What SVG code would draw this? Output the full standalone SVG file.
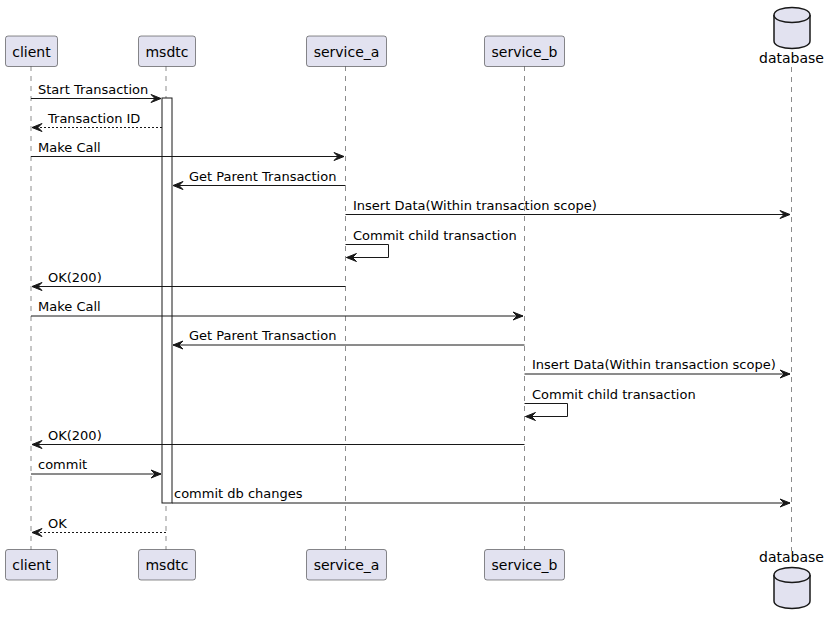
<svg xmlns="http://www.w3.org/2000/svg" width="827" height="627" viewBox="0 0 827 627">
<style>
.life{stroke:#181818;stroke-width:0.5;stroke-dasharray:5,5;fill:none}
.box{fill:#E2E2F0;stroke:#181818;stroke-width:0.5}
.db{fill:#E2E2F0;stroke:#181818;stroke-width:1.5}
.pt{font-family:"DejaVu Sans",sans-serif;font-size:14px;fill:#000000;text-anchor:middle}
.mt{font-family:"DejaVu Sans",sans-serif;font-size:13px;fill:#000000}
.msg{stroke:#181818;stroke-width:1;fill:none}
.dash{stroke-dasharray:2,2}
.head{fill:#181818;stroke:#181818;stroke-width:1}
.act{fill:#FFFFFF;stroke:#181818;stroke-width:1}
</style>
<rect width="827" height="627" fill="#FFFFFF"/>
<g id="lifelines">
<line class="life" x1="31" y1="66" x2="31" y2="550"/>
<line class="life" x1="166" y1="66" x2="166" y2="550"/>
<line class="life" x1="345.5" y1="66" x2="345.5" y2="550"/>
<line class="life" x1="524.5" y1="66" x2="524.5" y2="550"/>
<line class="life" x1="791.5" y1="67" x2="791.5" y2="551"/>
</g>
<g id="client">
<rect class="box" x="5.5" y="36" width="52" height="30.5" rx="2.5"/>
<text class="pt" x="31.5" y="56.5">client</text>
<rect class="box" x="5.5" y="549.5" width="52" height="30.5" rx="2.5"/>
<text class="pt" x="31.5" y="570">client</text>
</g>
<g id="msdtc">
<rect class="box" x="138.5" y="36" width="57" height="30.5" rx="2.5"/>
<text class="pt" x="167" y="56.5">msdtc</text>
<rect class="box" x="138.5" y="549.5" width="57" height="30.5" rx="2.5"/>
<text class="pt" x="167" y="570">msdtc</text>
</g>
<g id="service_a">
<rect class="box" x="306.5" y="36" width="80" height="30.5" rx="2.5"/>
<text class="pt" x="346.5" y="56.5">service_a</text>
<rect class="box" x="306.5" y="549.5" width="80" height="30.5" rx="2.5"/>
<text class="pt" x="346.5" y="570">service_a</text>
</g>
<g id="service_b">
<rect class="box" x="484.5" y="36" width="80" height="30.5" rx="2.5"/>
<text class="pt" x="524.5" y="56.5">service_b</text>
<rect class="box" x="484.5" y="549.5" width="80" height="30.5" rx="2.5"/>
<text class="pt" x="524.5" y="570">service_b</text>
</g>
<g id="database">
<path class="db" d="M774,15 C774,5 810,5 810,15 L810,41 C810,51 774,51 774,41 Z"/>
<path class="db" d="M774,15 C774,25 810,25 810,15" fill="none"/>
<text class="pt" x="791.5" y="63">database</text>
<path class="db" d="M774,575 C774,565 810,565 810,575 L810,601 C810,611 774,611 774,601 Z"/>
<path class="db" d="M774,575 C774,585 810,585 810,575" fill="none"/>
<text class="pt" x="791.5" y="561.5">database</text>
</g>
<g id="activation">
<rect class="act" x="162" y="98" width="10" height="405"/>
</g>
<g id="connectors">
<line class="msg" x1="31" y1="98.5" x2="161" y2="98.5"/>
<polygon class="head" points="151,94.5 161,98.5 151,102.5 155,98.5"/>
<text class="mt" x="38" y="93.5">Start Transaction</text>

<line class="msg dash" x1="162" y1="127.5" x2="32" y2="127.5"/>
<polygon class="head" points="42,123.5 32,127.5 42,131.5 38,127.5"/>
<text class="mt" x="48" y="122.5">Transaction ID</text>

<line class="msg" x1="31" y1="156.5" x2="344" y2="156.5"/>
<polygon class="head" points="334,152.5 344,156.5 334,160.5 338,156.5"/>
<text class="mt" x="38" y="151.5">Make Call</text>

<line class="msg" x1="345.5" y1="185.5" x2="173" y2="185.5"/>
<polygon class="head" points="183,181.5 173,185.5 183,189.5 179,185.5"/>
<text class="mt" x="189" y="180.5">Get Parent Transaction</text>

<line class="msg" x1="345.5" y1="214.5" x2="790" y2="214.5"/>
<polygon class="head" points="780,210.5 790,214.5 780,218.5 784,214.5"/>
<text class="mt" x="353" y="209.5">Insert Data(Within transaction scope)</text>

<polyline class="msg" points="345.5,244.5 388.5,244.5 388.5,257.5 346.5,257.5"/>
<polygon class="head" points="356.5,253.5 346.5,257.5 356.5,261.5 352.5,257.5"/>
<text class="mt" x="353" y="239.5">Commit child transaction</text>

<line class="msg" x1="345.5" y1="286.5" x2="32" y2="286.5"/>
<polygon class="head" points="42,282.5 32,286.5 42,290.5 38,286.5"/>
<text class="mt" x="48" y="281.5">OK(200)</text>

<line class="msg" x1="31" y1="316" x2="523" y2="316"/>
<polygon class="head" points="513,312 523,316 513,320 517,316"/>
<text class="mt" x="38" y="311">Make Call</text>

<line class="msg" x1="524.5" y1="345" x2="173" y2="345"/>
<polygon class="head" points="183,341 173,345 183,349 179,345"/>
<text class="mt" x="189" y="340">Get Parent Transaction</text>

<line class="msg" x1="524.5" y1="374" x2="790" y2="374"/>
<polygon class="head" points="780,370 790,374 780,378 784,374"/>
<text class="mt" x="532" y="369">Insert Data(Within transaction scope)</text>

<polyline class="msg" points="524.5,403.5 567.5,403.5 567.5,416.5 525.5,416.5"/>
<polygon class="head" points="535.5,412.5 525.5,416.5 535.5,420.5 531.5,416.5"/>
<text class="mt" x="532" y="398.5">Commit child transaction</text>

<line class="msg" x1="524.5" y1="444.5" x2="32" y2="444.5"/>
<polygon class="head" points="42,440.5 32,444.5 42,448.5 38,444.5"/>
<text class="mt" x="48" y="439.5">OK(200)</text>

<line class="msg" x1="31" y1="474" x2="161" y2="474"/>
<polygon class="head" points="151,470 161,474 151,478 155,474"/>
<text class="mt" x="38" y="469">commit</text>

<line class="msg" x1="172" y1="503" x2="790" y2="503"/>
<polygon class="head" points="780,499 790,503 780,507 784,503"/>
<text class="mt" x="174" y="498">commit db changes</text>

<line class="msg dash" x1="166" y1="532.5" x2="32" y2="532.5"/>
<polygon class="head" points="42,528.5 32,532.5 42,536.5 38,532.5"/>
<text class="mt" x="48" y="527.5">OK</text>
</g>
</svg>
